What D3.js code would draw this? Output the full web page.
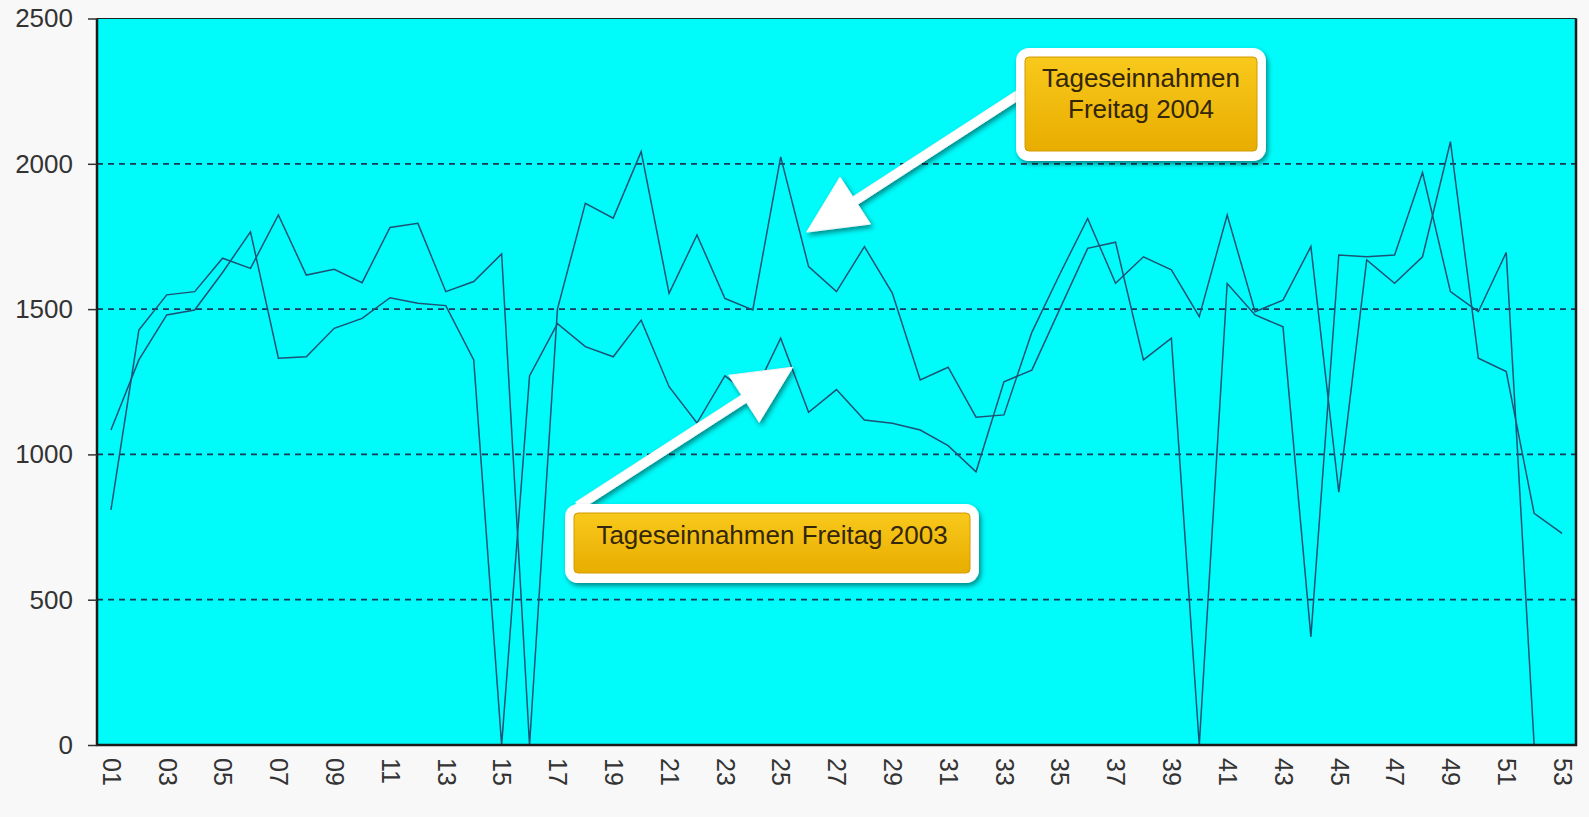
<!DOCTYPE html>
<html>
<head>
<meta charset="utf-8">
<script src="https://cdn.jsdelivr.net/npm/d3@7"></script>
<style>
    body { margin: 0; background: #f8f8f8; font-family: "Liberation Sans", Arial, sans-serif; }
    #chart { width: 1589px; height: 817px; }
</style>
</head>
<body>
<div id="chart"></div>
<script>
// weeks 01..53 (Freitage)
const weeks = d3.range(1, 54).map(d => (d < 10 ? "0" : "") + d);

// Tageseinnahmen Freitag 2003 (52 weeks)
const friday2003 = [1084, 1325, 1480, 1497, 1626, 1766, 1331, 1336, 1434, 1468,
    1539, 1520, 1512, 1325, 0, 1270, 1450, 1371, 1336, 1462,
    1233, 1108, 1270, 1200, 1400, 1145, 1223, 1118, 1107, 1084,
    1030, 940, 1250, 1290, 1500, 1709, 1730, 1325, 1400, 0,
    1588, 1480, 1439, 372, 1686, 1680, 1686, 1970, 1560, 1491,
    1695, 0];

// Tageseinnahmen Freitag 2004 (53 weeks)
const friday2004 = [809, 1428, 1549, 1560, 1675, 1640, 1824, 1617, 1637, 1591,
    1781, 1795, 1560, 1595, 1690, 0, 1500, 1864, 1813, 2042,
    1554, 1755, 1537, 1497, 2024, 1646, 1560, 1715, 1555, 1256,
    1300, 1128, 1136, 1420, 1620, 1812, 1589, 1680, 1635, 1474,
    1824, 1491, 1531, 1715, 870, 1669, 1589, 1680, 2076, 1331,
    1285, 797, 728];

const yTicks = [0, 500, 1000, 1500, 2000, 2500];
const xTickLabels = weeks.filter((d, i) => i % 2 === 0);   // 01, 03, ... 53

const callouts = [
    {lines: ["Tageseinnahmen", "Freitag 2004"], week: "26", value: 1765},
    {lines: ["Tageseinnahmen Freitag 2003"], week: "25", value: 1300}
];

class LineChart {

    constructor(parentElement, dimCanvas) {
        this.parentElement = parentElement;
        this.canvas = dimCanvas;                 // {width: 1589, height: 817}
        this.initVis();
    }

    initVis() {
        let vis = this;

        vis.margin = {top: 18.5, right: 13, bottom: 72, left: 97};
        vis.width = vis.canvas.width - vis.margin.left - vis.margin.right;
        vis.height = vis.canvas.height - vis.margin.top - vis.margin.bottom;

        vis.svg = d3.select(vis.parentElement)
            .append("svg")
            .attr("width", vis.canvas.width)
            .attr("height", vis.canvas.height);

        // soft shadow for the call-outs
        let defs = vis.svg.append("defs");
        let filter = defs.append("filter")
            .attr("id", "shadow")
            .attr("x", "-20%").attr("y", "-20%")
            .attr("width", "140%").attr("height", "160%");
        filter.append("feDropShadow")
            .attr("dx", 2).attr("dy", 3)
            .attr("stdDeviation", 2.5)
            .attr("flood-color", "#000")
            .attr("flood-opacity", 0.45);

        let grad = defs.append("linearGradient")
            .attr("id", "gold")
            .attr("x1", 0).attr("y1", 0).attr("x2", 0).attr("y2", 1);
        grad.append("stop").attr("offset", "0%").attr("stop-color", "#f8c91c");
        grad.append("stop").attr("offset", "100%").attr("stop-color", "#e8ad00");

        vis.g = vis.svg.append("g")
            .attr("transform", "translate(" + vis.margin.left + "," + vis.margin.top + ")");

        vis.x = d3.scalePoint()
            .domain(weeks)
            .range([0, vis.width])
            .padding(0.5);

        vis.y = d3.scaleLinear()
            .domain([0, 2500])
            .range([vis.height, 0]);

        vis.wrangleData();
    }

    wrangleData() {
        let vis = this;

        vis.series = [friday2003, friday2004].map(values =>
            values.map((v, i) => ({week: weeks[i], value: v})));

        vis.updateVis();
    }

    updateVis() {
        let vis = this;

        // plot area
        vis.g.append("rect")
            .attr("width", vis.width)
            .attr("height", vis.height)
            .attr("fill", "#00fbfb");

        // dashed grid lines
        vis.g.append("g")
            .selectAll("line")
            .data(yTicks.filter(d => d > 0 && d < 2500))
            .enter()
            .append("line")
            .attr("x1", 0)
            .attr("x2", vis.width)
            .attr("y1", d => vis.y(d))
            .attr("y2", d => vis.y(d))
            .attr("stroke", "#163a55")
            .attr("stroke-width", 1.8)
            .attr("stroke-dasharray", "6,5");

        // lines
        let line = d3.line()
            .x(d => vis.x(d.week))
            .y(d => vis.y(d.value));

        vis.g.append("g")
            .selectAll("path")
            .data(vis.series)
            .enter()
            .append("path")
            .attr("d", line)
            .attr("fill", "none")
            .attr("stroke", "#1d5275")
            .attr("stroke-width", 1.5)
            .attr("stroke-linejoin", "miter");

        // frame
        vis.g.append("rect")
            .attr("width", vis.width)
            .attr("height", vis.height)
            .attr("fill", "none")
            .attr("stroke", "#222")
            .attr("stroke-width", 1);
        vis.g.append("path")
            .attr("d", `M0,0V${vis.height}H${vis.width}V0`)
            .attr("fill", "none")
            .attr("stroke", "#1a1a1a")
            .attr("stroke-width", 2.5);

        // y axis
        let yAxis = vis.g.append("g")
            .call(d3.axisLeft(vis.y).tickValues(yTicks).tickFormat(d3.format("d"))
                .tickSize(9).tickPadding(15));
        yAxis.select(".domain").remove();
        yAxis.selectAll("line").attr("stroke", "#333").attr("stroke-width", 1.5);
        yAxis.selectAll("text")
            .attr("fill", "#333")
            .style("font-size", "26px")
            .style("font-family", "'Liberation Sans', Arial, sans-serif");

        // x axis, labels rotated
        let xAxis = vis.g.append("g")
            .attr("transform", "translate(0," + vis.height + ")")
            .call(d3.axisBottom(vis.x).tickValues(xTickLabels).tickSize(0).tickPadding(0));
        xAxis.select(".domain").remove();
        xAxis.selectAll("text")
            .attr("fill", "#333")
            .attr("text-anchor", "start")
            .attr("dy", "0.35em")
            .attr("transform", "translate(0,13) rotate(90)")
            .style("font-size", "25px")
            .style("font-family", "'Liberation Sans', Arial, sans-serif");

        vis.drawCallouts();
    }

    drawCallouts() {
        let vis = this;
        let layer = vis.svg.append("g");
        let px = w => vis.margin.left + vis.x(w);
        let py = v => vis.margin.top + vis.y(v);

        // box geometry (page pixels)
        let boxes = [
            {x: 1016, y: 48, w: 250, h: 113, lineY: [87, 118]},
            {x: 565, y: 504, w: 414, h: 79, lineY: [544]}
        ];
        let tails = [[1032, 86], [578, 506]];
        let tipShift = [-2, 12];

        callouts.forEach(function (c, i) {
            let tip = [px(c.week) + tipShift[i], py(c.value)];
            vis.arrow(layer, tails[i], tip);
        });

        callouts.forEach(function (c, i) {
            let b = boxes[i];
            let g = layer.append("g");
            g.append("rect")
                .attr("x", b.x).attr("y", b.y)
                .attr("width", b.w).attr("height", b.h)
                .attr("rx", 13)
                .attr("fill", "#ffffff")
                .attr("filter", "url(#shadow)");
            g.append("rect")
                .attr("x", b.x + 9).attr("y", b.y + 9)
                .attr("width", b.w - 18).attr("height", b.h - 19)
                .attr("rx", 4)
                .attr("fill", "url(#gold)")
                .attr("stroke", "#d49a00")
                .attr("stroke-width", 1);
            g.selectAll("text")
                .data(c.lines)
                .enter()
                .append("text")
                .attr("x", b.x + b.w / 2)
                .attr("y", (d, j) => b.lineY[j])
                .attr("text-anchor", "middle")
                .attr("fill", "#33260a")
                .style("font-size", "26px")
                .style("font-family", "'Liberation Sans', Arial, sans-serif")
                .text(d => d);
        });
    }

    arrow(layer, tail, tip) {
        let dx = tip[0] - tail[0], dy = tip[1] - tail[1];
        let len = Math.sqrt(dx * dx + dy * dy);
        let ux = dx / len, uy = dy / len;
        let nx = -uy, ny = ux;
        let shaft = 4.5, headLen = 58, headW = 28;
        let bx = tip[0] - ux * headLen, by = tip[1] - uy * headLen;
        let pts = [
            [tail[0] + nx * shaft, tail[1] + ny * shaft],
            [bx + nx * shaft, by + ny * shaft],
            [bx + nx * headW, by + ny * headW],
            tip,
            [bx - nx * headW, by - ny * headW],
            [bx - nx * shaft, by - ny * shaft],
            [tail[0] - nx * shaft, tail[1] - ny * shaft]
        ];
        layer.append("polygon")
            .attr("points", pts.map(p => p.join(",")).join(" "))
            .attr("fill", "#ffffff")
            .attr("stroke", "#f2f2f2")
            .attr("stroke-width", 1)
            .attr("filter", "url(#shadow)");
    }
}

new LineChart("#chart", {width: 1589, height: 817});
</script>
</body>
</html>
